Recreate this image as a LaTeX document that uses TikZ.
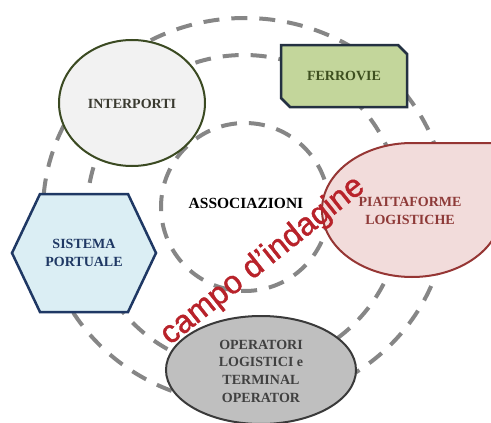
\documentclass[tikz,border=0pt]{standalone}
\usepackage{fontspec}
\setmainfont{Liberation Serif}
\newfontfamily\campofont[FakeBold=1.4]{Liberation Sans}
\usetikzlibrary{shapes.geometric}
\definecolor{dashgray}{HTML}{868686}
\definecolor{intfill}{HTML}{F2F2F2}
\definecolor{intdraw}{HTML}{3B4A22}
\definecolor{inttext}{HTML}{3A3A30}
\definecolor{ferfill}{HTML}{C3D69B}
\definecolor{ferdraw}{HTML}{243142}
\definecolor{fertext}{HTML}{3D4F1F}
\definecolor{piafill}{HTML}{F2DCDB}
\definecolor{piadraw}{HTML}{963634}
\definecolor{piatext}{HTML}{8E3A38}
\definecolor{sisfill}{HTML}{DBEEF4}
\definecolor{sisdraw}{HTML}{1F3864}
\definecolor{sistext}{HTML}{1F3864}
\definecolor{opefill}{HTML}{BFBFBF}
\definecolor{opedraw}{HTML}{3A3A3A}
\definecolor{opetext}{HTML}{404040}
\definecolor{campored}{HTML}{B8222A}
\tikzset{
  ring/.style={draw=dashgray, line width=4pt, dash pattern=on 16pt off 12pt},
  lbl/.style={font=\bfseries\fontsize{14}{17.7}\selectfont, align=center, inner sep=0pt},
}
\begin{document}
\begin{tikzpicture}[x=1pt,y=-1pt]
\useasboundingbox (0,0) rectangle (491,423);
\fill[white] (0,0) rectangle (491,423);
% dashed rings
\draw[ring] (245,211) ellipse [x radius=202pt, y radius=193pt];
\draw[ring] (244,212) circle [radius=157pt];
\draw[ring] (245,207) circle [radius=84pt];
% INTERPORTI
\draw[fill=intfill, draw=intdraw, line width=2pt] (132,103) ellipse [x radius=73pt, y radius=63pt];
\node[lbl, text=inttext] (interporti) at (132,104) {INTERPORTI};
% FERROVIE
\draw[fill=ferfill, draw=ferdraw, line width=2.5pt, line join=miter]
  (281,45) -- (398,45) -- (407,54) -- (407,107) -- (290,107) -- (281,98) -- cycle;
\node[lbl, text=fertext] (ferrovie) at (344,76) {FERROVIE};
% PIATTAFORME LOGISTICHE (teardrop)
\draw[fill=piafill, draw=piadraw, line width=2pt]
  (412,143) -- (502,143) -- (502,210) arc[start angle=0, end angle=-270, x radius=90pt, y radius=67pt] -- cycle;
\node[lbl, text=piatext] (piatt) at (410,211) {PIATTAFORME\\LOGISTICHE};
% SISTEMA PORTUALE (hexagon)
\draw[fill=sisfill, draw=sisdraw, line width=2.5pt, line join=miter]
  (12,253) -- (40,194) -- (128,194) -- (156,253) -- (128,312) -- (40,312) -- cycle;
\node[lbl, text=sistext] (sistema) at (84,253) {SISTEMA\\PORTUALE};
% OPERATORI
\draw[fill=opefill, draw=opedraw, line width=2pt] (261,370) ellipse [x radius=95pt, y radius=54pt];
\node[lbl, text=opetext] (operatori) at (261,371) {OPERATORI\\LOGISTICI e\\TERMINAL\\OPERATOR};
% ASSOCIAZIONI
\node[font=\bfseries\fontsize{15.5}{18}\selectfont, text=black, inner sep=0pt] (assoc) at (246,203) {ASSOCIAZIONI};
% campo d'indagine
\node[font=\campofont\fontsize{32}{36}\selectfont, text=campored, rotate=38.5, inner sep=0pt] (campo) at (263,261) {campo d’indagine};
\end{tikzpicture}
\end{document}
